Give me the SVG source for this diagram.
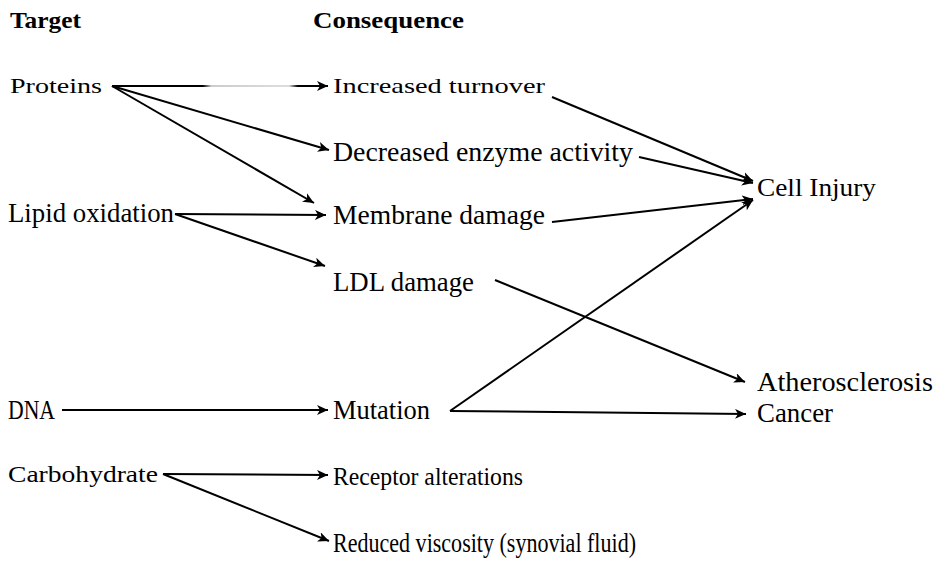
<svg xmlns="http://www.w3.org/2000/svg" width="937" height="563" viewBox="0 0 937 563">
<defs>
<marker id="ah" markerUnits="userSpaceOnUse" markerWidth="12" markerHeight="10" refX="11" refY="5" orient="auto">
<path d="M0,0 L11,5 L0,10 L3,5 Z" fill="#000"/>
</marker>
<linearGradient id="fade" gradientUnits="userSpaceOnUse" x1="112" y1="0" x2="328" y2="0">
<stop offset="0" stop-color="#000"/>
<stop offset="0.42" stop-color="#000"/>
<stop offset="0.46" stop-color="#ccc"/>
<stop offset="0.82" stop-color="#ddd"/>
<stop offset="0.86" stop-color="#000"/>
<stop offset="1" stop-color="#000"/>
</linearGradient>
</defs>
<style>
text{font-family:"Liberation Serif","Times New Roman",serif;fill:#000;font-size:27px}
.h{font-weight:bold;font-size:24px}
.s{font-size:22px}
.c line{stroke:#000;stroke-width:2;fill:none;marker-end:url(#ah)}
</style>
<rect width="937" height="563" fill="#fff"/>
<g id="headers">
<text class="h" x="10" y="28" textLength="71" lengthAdjust="spacingAndGlyphs">Target</text>
<text class="h" x="313" y="28" textLength="151" lengthAdjust="spacingAndGlyphs">Consequence</text>
</g>
<g class="c" id="connectors">
<line x1="112" y1="86" x2="328" y2="86" style="stroke:url(#fade)"/>
<line x1="112" y1="86" x2="329" y2="150"/>
<line x1="112" y1="86" x2="314" y2="203"/>
<line x1="175" y1="214" x2="326" y2="215"/>
<line x1="175" y1="214" x2="325" y2="266"/>
<line x1="552" y1="97" x2="753" y2="181"/>
<line x1="639" y1="157" x2="753" y2="183"/>
<line x1="552" y1="222" x2="753" y2="199"/>
<line x1="495" y1="280" x2="745" y2="382"/>
<line x1="62" y1="410" x2="328" y2="410"/>
<line x1="450" y1="411" x2="753" y2="200"/>
<line x1="450" y1="411" x2="746" y2="414"/>
<line x1="163" y1="474" x2="328" y2="475"/>
<line x1="163" y1="474" x2="329" y2="541"/>
</g>
<g id="proteins"><text class="s" x="10" y="93" textLength="92" lengthAdjust="spacingAndGlyphs">Proteins</text></g>
<g id="lipid"><text x="8" y="222" textLength="166" lengthAdjust="spacingAndGlyphs">Lipid oxidation</text></g>
<g id="dna"><text x="8" y="419" textLength="47" lengthAdjust="spacingAndGlyphs">DNA</text></g>
<g id="carbohydrate"><text style="font-size:23px" x="8" y="482" textLength="150" lengthAdjust="spacingAndGlyphs">Carbohydrate</text></g>
<g id="turnover"><text style="font-size:21px" x="333" y="93" textLength="212" lengthAdjust="spacingAndGlyphs">Increased  turnover</text></g>
<g id="enzyme"><text x="333" y="161" textLength="300" lengthAdjust="spacingAndGlyphs">Decreased enzyme activity</text></g>
<g id="membrane"><text x="333" y="224" textLength="212" lengthAdjust="spacingAndGlyphs">Membrane damage</text></g>
<g id="ldl"><text x="333" y="291" textLength="141" lengthAdjust="spacingAndGlyphs">LDL damage</text></g>
<g id="mutation"><text x="333" y="419" textLength="97" lengthAdjust="spacingAndGlyphs">Mutation</text></g>
<g id="receptor"><text style="font-size:25px" x="333" y="485" textLength="190" lengthAdjust="spacingAndGlyphs">Receptor alterations</text></g>
<g id="viscosity"><text style="font-size:28px" x="333" y="552" textLength="303" lengthAdjust="spacingAndGlyphs">Reduced viscosity (synovial fluid)</text></g>
<g id="cellinjury"><text style="font-size:25px" x="757" y="196" textLength="119" lengthAdjust="spacingAndGlyphs">Cell Injury</text></g>
<g id="athero"><text x="757" y="391" textLength="176" lengthAdjust="spacingAndGlyphs">Atherosclerosis</text></g>
<g id="cancer"><text x="757" y="422" textLength="76" lengthAdjust="spacingAndGlyphs">Cancer</text></g>
</svg>
